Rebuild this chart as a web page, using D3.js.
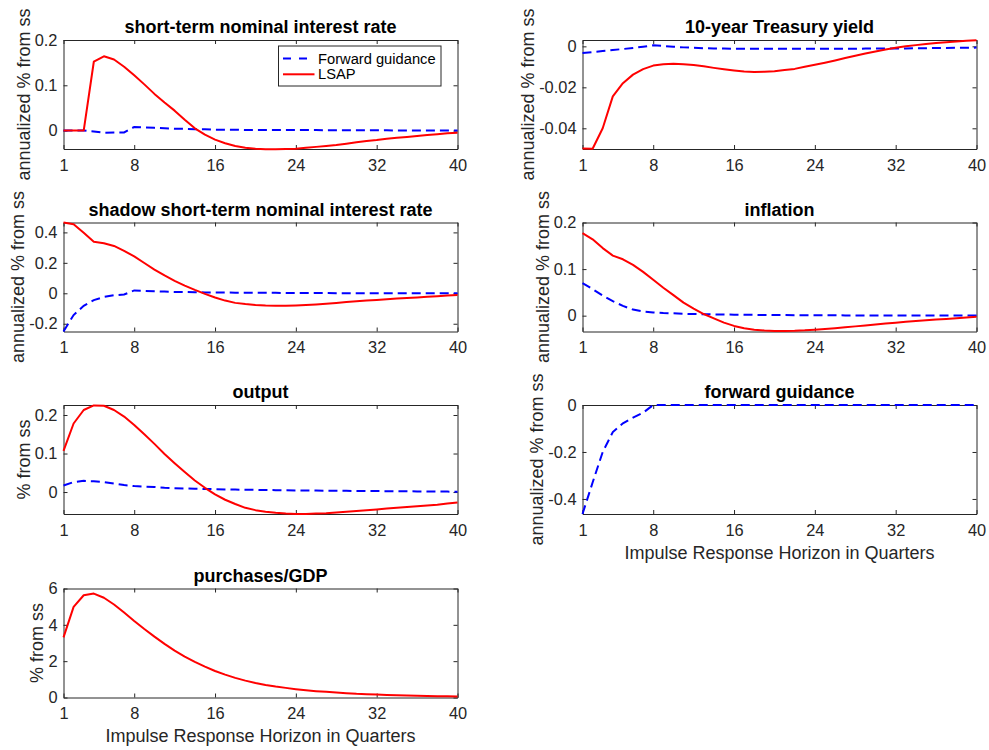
<!DOCTYPE html>
<html>
<head>
<meta charset="utf-8">
<script src="https://cdn.jsdelivr.net/npm/d3@7"></script>
<style>
  body { margin: 0; background: #fff; }
  svg { display: block; font-family: "Liberation Sans", Arial, sans-serif; }
</style>
</head>
<body>
<svg id="chart" width="989" height="750"></svg>
<script>
// horizon in quarters and the x tick labels
const horizon = d3.range(1, 41);
const xTicks = [1, 8, 16, 24, 32, 40];

// short-term nominal interest rate
const shortRateFG = [0, 0, 0, -0.002, -0.005, -0.004, -0.004, 0.008, 0.007, 0.006,
  0.005, 0.004, 0.004, 0.003, 0.003, 0.002, 0.002, 0.002, 0.001, 0.001,
  0.001, 0.001, 0.001, 0.001, 0.001, 0.001, 0.0005, 0.0005, 0.0005, 0.0005,
  0.0005, 0.0005, 0.0005, 0, 0, 0, 0, 0, 0, 0];
const shortRateLSAP = [0, 0, 0, 0.152, 0.164, 0.157, 0.141, 0.122, 0.102, 0.081,
  0.062, 0.044, 0.024, 0.005, -0.009, -0.020, -0.028, -0.034, -0.038, -0.040,
  -0.041, -0.041, -0.0405, -0.040, -0.038, -0.036, -0.034, -0.032, -0.029, -0.026,
  -0.023, -0.021, -0.018, -0.016, -0.014, -0.012, -0.010, -0.008, -0.006, -0.005];
const shortRateRange = [-0.0407, 0.2];
const shortRateTicks = [0, 0.1, 0.2];

// 10-year Treasury yield
const tenYearFG = [-0.0033, -0.0028, -0.0023, -0.0018, -0.0013, -0.0008, -0.0002, 0.0005, 0.0002, -0.0002,
  -0.0005, -0.0007, -0.0009, -0.0010, -0.0011, -0.0012, -0.0012, -0.0012, -0.0012, -0.0012,
  -0.0012, -0.0012, -0.0012, -0.0012, -0.0012, -0.0012, -0.0012, -0.0012, -0.0011, -0.0011,
  -0.0011, -0.0010, -0.0010, -0.0009, -0.0009, -0.0008, -0.0008, -0.0007, -0.0007, -0.0006];
const tenYearLSAP = [-0.0498, -0.0500, -0.0400, -0.0244, -0.0180, -0.0138, -0.0111, -0.0094, -0.0087, -0.0085,
  -0.0087, -0.0091, -0.0097, -0.0105, -0.0112, -0.0118, -0.0123, -0.0125, -0.0124, -0.0121,
  -0.0116, -0.0110, -0.0100, -0.0090, -0.0080, -0.0069, -0.0057, -0.0046, -0.0035, -0.0025,
  -0.0015, -0.0007, 0.0000, 0.0006, 0.0011, 0.0016, 0.0020, 0.0024, 0.0027, 0.0030];
const tenYearRange = [-0.0501, 0.0031];
const tenYearTicks = [-0.04, -0.02, 0];

// shadow short-term nominal interest rate
const shadowFG = [-0.251, -0.143, -0.082, -0.045, -0.024, -0.013, -0.008, 0.019, 0.016, 0.013,
  0.011, 0.009, 0.008, 0.007, 0.006, 0.005, 0.005, 0.004, 0.004, 0.003,
  0.003, 0.003, 0.002, 0.002, 0.002, 0.002, 0.002, 0.001, 0.001, 0.001,
  0.001, 0.001, 0.001, 0.001, 0.001, 0.0005, 0.0005, 0.0005, 0.0005, 0.0005];
const shadowLSAP = [0.465, 0.454, 0.398, 0.339, 0.329, 0.311, 0.279, 0.242, 0.199, 0.156,
  0.117, 0.082, 0.050, 0.022, -0.004, -0.028, -0.048, -0.063, -0.071, -0.077,
  -0.081, -0.082, -0.082, -0.080, -0.077, -0.073, -0.068, -0.063, -0.058, -0.053,
  -0.048, -0.044, -0.039, -0.035, -0.031, -0.027, -0.023, -0.019, -0.015, -0.011];
const shadowRange = [-0.251, 0.465];
const shadowTicks = [-0.2, 0, 0.2, 0.4];

// inflation
const inflationFG = [0.070, 0.057, 0.043, 0.031, 0.021, 0.013, 0.009, 0.007, 0.0057, 0.005,
  0.004, 0.0035, 0.003, 0.0027, 0.0024, 0.0021, 0.0019, 0.0017, 0.0015, 0.0013,
  0.0012, 0.0011, 0.0010, 0.0009, 0.0008, 0.0007, 0.0006, 0.0006, 0.0005, 0.0005,
  0.0004, 0.0004, 0.0003, 0.0003, 0.0003, 0.0002, 0.0002, 0.0002, 0.0002, 0.0001];
const inflationLSAP = [0.177, 0.164, 0.145, 0.129, 0.121, 0.109, 0.094, 0.077, 0.060, 0.044,
  0.028, 0.015, 0.0035, -0.006, -0.015, -0.022, -0.027, -0.030, -0.032, -0.0328,
  -0.0330, -0.0325, -0.0315, -0.0300, -0.0285, -0.0268, -0.0250, -0.0230, -0.0210, -0.0190,
  -0.0170, -0.0150, -0.0133, -0.0116, -0.0100, -0.0085, -0.0070, -0.0055, -0.0040, -0.0025];
const inflationRange = [-0.034, 0.2];
const inflationTicks = [0, 0.1, 0.2];

// output
const outputFG = [0.017, 0.026, 0.029, 0.028, 0.026, 0.022, 0.018, 0.0155, 0.014, 0.013,
  0.011, 0.010, 0.0093, 0.0086, 0.008, 0.0074, 0.0069, 0.0064, 0.006, 0.0056,
  0.0052, 0.0049, 0.0046, 0.0043, 0.0040, 0.0037, 0.0035, 0.0033, 0.0031, 0.0029,
  0.0027, 0.0025, 0.0023, 0.0021, 0.0019, 0.0017, 0.0015, 0.0013, 0.0011, 0.0010];
const outputLSAP = [0.107, 0.178, 0.213, 0.225, 0.224, 0.213, 0.196, 0.174, 0.150, 0.125,
  0.099, 0.075, 0.052, 0.030, 0.011, -0.006, -0.020, -0.031, -0.041, -0.047,
  -0.051, -0.054, -0.056, -0.057, -0.057, -0.056, -0.055, -0.053, -0.051, -0.049,
  -0.047, -0.045, -0.043, -0.041, -0.039, -0.037, -0.035, -0.033, -0.030, -0.027];
const outputRange = [-0.057, 0.226];
const outputTicks = [0, 0.1, 0.2];

// forward guidance
const guidanceFG = [-0.464, -0.330, -0.200, -0.115, -0.078, -0.054, -0.033, 0, 0, 0,
  0, 0, 0, 0, 0, 0, 0, 0, 0, 0,
  0, 0, 0, 0, 0, 0, 0, 0, 0, 0,
  0, 0, 0, 0, 0, 0, 0, 0, 0, 0];
const guidanceRange = [-0.464, 0];
const guidanceTicks = [-0.4, -0.2, 0];

// purchases/GDP
const purchasesLSAP = [3.31, 4.99, 5.63, 5.72, 5.49, 5.12, 4.68, 4.21, 3.77, 3.35,
  2.95, 2.58, 2.25, 1.96, 1.70, 1.46, 1.26, 1.08, 0.93, 0.80,
  0.69, 0.60, 0.53, 0.46, 0.40, 0.35, 0.31, 0.27, 0.24, 0.20,
  0.18, 0.16, 0.14, 0.12, 0.11, 0.09, 0.08, 0.07, 0.065, 0.055];
const purchasesRange = [0, 6];
const purchasesTicks = [0, 2, 4, 6];

const annualized = "annualized % from ss";
const panels = [
  { title: "short-term nominal interest rate", ylab: annualized, col: 0, row: 0,
    range: shortRateRange, ticks: shortRateTicks, fg: shortRateFG, lsap: shortRateLSAP, legend: true },
  { title: "10-year Treasury yield", ylab: annualized, col: 1, row: 0,
    range: tenYearRange, ticks: tenYearTicks, fg: tenYearFG, lsap: tenYearLSAP },
  { title: "shadow short-term nominal interest rate", ylab: annualized, col: 0, row: 1,
    range: shadowRange, ticks: shadowTicks, fg: shadowFG, lsap: shadowLSAP },
  { title: "inflation", ylab: annualized, col: 1, row: 1,
    range: inflationRange, ticks: inflationTicks, fg: inflationFG, lsap: inflationLSAP },
  { title: "output", ylab: "% from ss", col: 0, row: 2,
    range: outputRange, ticks: outputTicks, fg: outputFG, lsap: outputLSAP },
  { title: "forward guidance", ylab: annualized, col: 1, row: 2,
    range: guidanceRange, ticks: guidanceTicks, fg: guidanceFG, xlab: true },
  { title: "purchases/GDP", ylab: "% from ss", col: 0, row: 3,
    range: purchasesRange, ticks: purchasesTicks, lsap: purchasesLSAP, xlab: true }
];

const svg = d3.select("#chart");
const lefts = [63.5, 582.5], plotW = 394;
const tops = [40, 222.5, 405, 588.5], plotH = 109;
const ink = "#262626";
const tickFont = 16.4, labelFont = 18;

const styleAxis = g => {
  g.attr("font-family", null).attr("font-size", tickFont).style("color", ink);
  g.selectAll("text").attr("fill", ink);
};

panels.forEach(p => {
  const x0 = lefts[p.col], y0 = tops[p.row];
  const x = d3.scaleLinear().domain([1, 40]).range([x0, x0 + plotW]);
  const y = d3.scaleLinear().domain(p.range).range([y0 + plotH, y0]);
  const g = svg.append("g");

  // box with inward ticks on all four sides
  g.append("g").attr("transform", `translate(0,${y0 + plotH})`)
    .call(d3.axisBottom(x).tickValues(xTicks).tickSize(-4).tickSizeOuter(0).tickPadding(10))
    .call(styleAxis);
  g.append("g").attr("transform", `translate(0,${y0})`)
    .call(d3.axisTop(x).tickValues(xTicks).tickSize(-4).tickSizeOuter(0).tickFormat(() => ""))
    .call(styleAxis);
  const yAxis = g.append("g").attr("transform", `translate(${x0},0)`)
    .call(d3.axisLeft(y).tickValues(p.ticks).tickSize(-4).tickSizeOuter(0).tickPadding(6).tickFormat(d => String(d)))
    .call(styleAxis);
  g.append("g").attr("transform", `translate(${x0 + plotW},0)`)
    .call(d3.axisRight(y).tickValues(p.ticks).tickSize(-4).tickSizeOuter(0).tickFormat(() => ""))
    .call(styleAxis);

  const line = d3.line().x((d, i) => x(horizon[i])).y(d => y(d));
  if (p.fg) {
    g.append("path").datum(p.fg)
      .attr("d", line)
      .attr("fill", "none")
      .attr("stroke", "#0000ff")
      .attr("stroke-width", 2)
      .attr("stroke-dasharray", "9,5");
  }
  if (p.lsap) {
    g.append("path").datum(p.lsap)
      .attr("d", line)
      .attr("fill", "none")
      .attr("stroke", "#ff0000")
      .attr("stroke-width", 2)
      .attr("stroke-linejoin", "round");
  }

  g.append("text")
    .attr("x", x0 + plotW / 2)
    .attr("y", y0 - 7)
    .attr("text-anchor", "middle")
    .attr("font-size", labelFont)
    .attr("font-weight", "bold")
    .attr("fill", "#000")
    .text(p.title);

  // y label sits just left of the widest tick label
  const bb = yAxis.node().getBBox();
  const lx = x0 + bb.x - 5;
  const cy = y0 + plotH / 2;
  g.append("text")
    .attr("transform", `translate(${lx},${cy}) rotate(-90)`)
    .attr("text-anchor", "middle")
    .attr("font-size", labelFont)
    .attr("fill", ink)
    .text(p.ylab);

  if (p.xlab) {
    g.append("text")
      .attr("x", x0 + plotW / 2)
      .attr("y", y0 + plotH + 44.5)
      .attr("text-anchor", "middle")
      .attr("font-size", labelFont)
      .attr("fill", ink)
      .text("Impulse Response Horizon in Quarters");
  }

  if (p.legend) {
    const lg = g.append("g");
    const bx = x0 + plotW - 179, by = y0 + 6;
    lg.append("rect")
      .attr("x", bx).attr("y", by)
      .attr("width", 162.5).attr("height", 40)
      .attr("fill", "#fff")
      .attr("stroke", ink)
      .attr("stroke-width", 1);
    const entries = [
      { name: "Forward guidance", color: "#0000ff", dash: "8,8" },
      { name: "LSAP", color: "#ff0000", dash: null }
    ];
    entries.forEach((e, i) => {
      const ly = by + 12.5 + i * 15.8;
      lg.append("line")
        .attr("x1", bx + 4.5).attr("x2", bx + 36)
        .attr("y1", ly).attr("y2", ly)
        .attr("stroke", e.color)
        .attr("stroke-width", 2)
        .attr("stroke-dasharray", e.dash);
      lg.append("text")
        .attr("x", bx + 39.5)
        .attr("y", ly)
        .attr("dy", "0.35em")
        .attr("font-size", 14.7)
        .attr("fill", "#000")
        .text(e.name);
    });
  }
});
</script>
</body>
</html>
